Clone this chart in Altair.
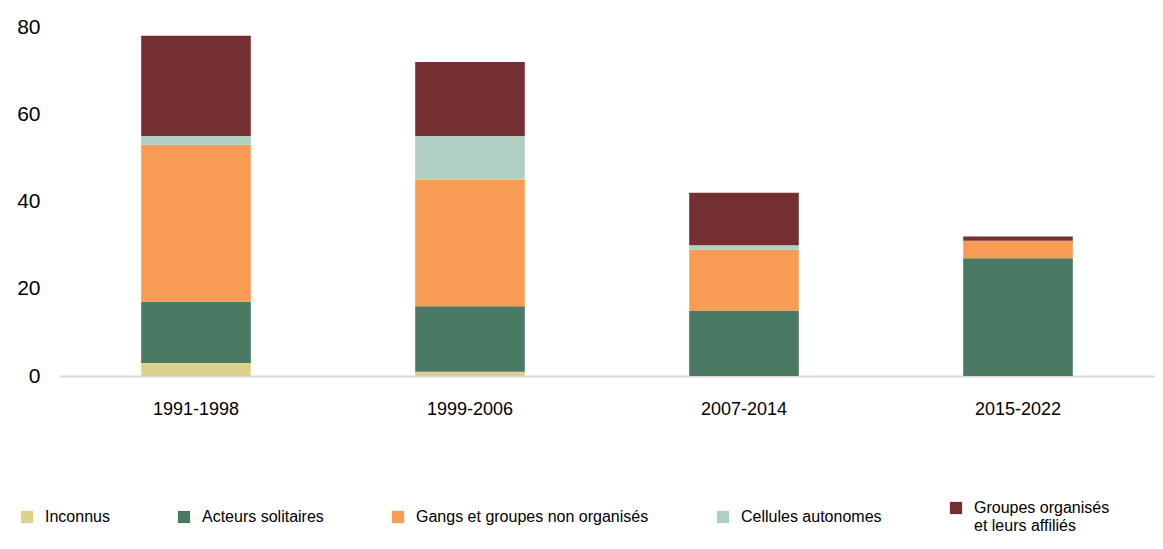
import altair as alt
import pandas as pd

periods = ["1991-1998", "1999-2006", "2007-2014", "2015-2022"]
categories = ["Inconnus", "Acteurs solitaires", "Gangs et groupes non organisés",
              "Cellules autonomes", "Groupes organisés et leurs affiliés"]
inconnus = [3, 1, 0, 0]
acteurs = [14, 15, 15, 27]
gangs = [36, 29, 14, 4]
cellules = [2, 10, 1, 0]
groupes = [23, 17, 12, 1]
colors = ["#ddd18f", "#4a7a64", "#f79b55", "#b0cfc3", "#742f31"]

series = [inconnus, acteurs, gangs, cellules, groupes]
rows = []
for ci, (cat, vals) in enumerate(zip(categories, series)):
    for p, v in zip(periods, vals):
        rows.append({"period": p, "cat": cat, "value": v, "order": ci})
df = pd.DataFrame(rows)

font = "Liberation Sans, Arial"

chart = alt.Chart(df).mark_bar().encode(
    x=alt.X("period:N", sort=periods, title=None,
            scale=alt.Scale(paddingInner=0.6, paddingOuter=0.3),
            axis=alt.Axis(labelAngle=0, ticks=False, domainColor="#d9d9d9", domainWidth=2,
                          labelFont=font, labelFontSize=18, labelColor="#000000",
                          labelPadding=24)),
    y=alt.Y("value:Q", title=None,
            scale=alt.Scale(domain=[0, 80]),
            axis=alt.Axis(values=[0, 20, 40, 60, 80], grid=False, domain=False, ticks=False,
                          labelFont=font, labelFontSize=21,
                          labelColor="#000000", labelPadding=19)),
    color=alt.Color("cat:N", sort=categories,
                    scale=alt.Scale(domain=categories, range=colors),
                    legend=alt.Legend(title=None, orient="none", direction="horizontal",
                                      columns=5, legendX=-40, legendY=473,
                                      symbolType="square", symbolSize=150,
                                      symbolStrokeWidth=0,
                                      labelFont=font, labelFontSize=16,
                                      labelColor="#000000", labelLimit=400,
                                      columnPadding=66, labelOffset=10,
                                      labelExpr="datum.label == 'Groupes organisés et leurs affiliés' ? ['Groupes organisés', 'et leurs affiliés'] : datum.label")),
    order=alt.Order("order:Q", sort="ascending"),
).properties(
    width=1096, height=349,
    padding={"left": 51, "top": 19, "right": 0, "bottom": 165},
    autosize=alt.AutoSizeParams(type="none"),
).configure_view(stroke=None)

chart.save("out.html", embed_options={"renderer": "svg", "actions": False})
